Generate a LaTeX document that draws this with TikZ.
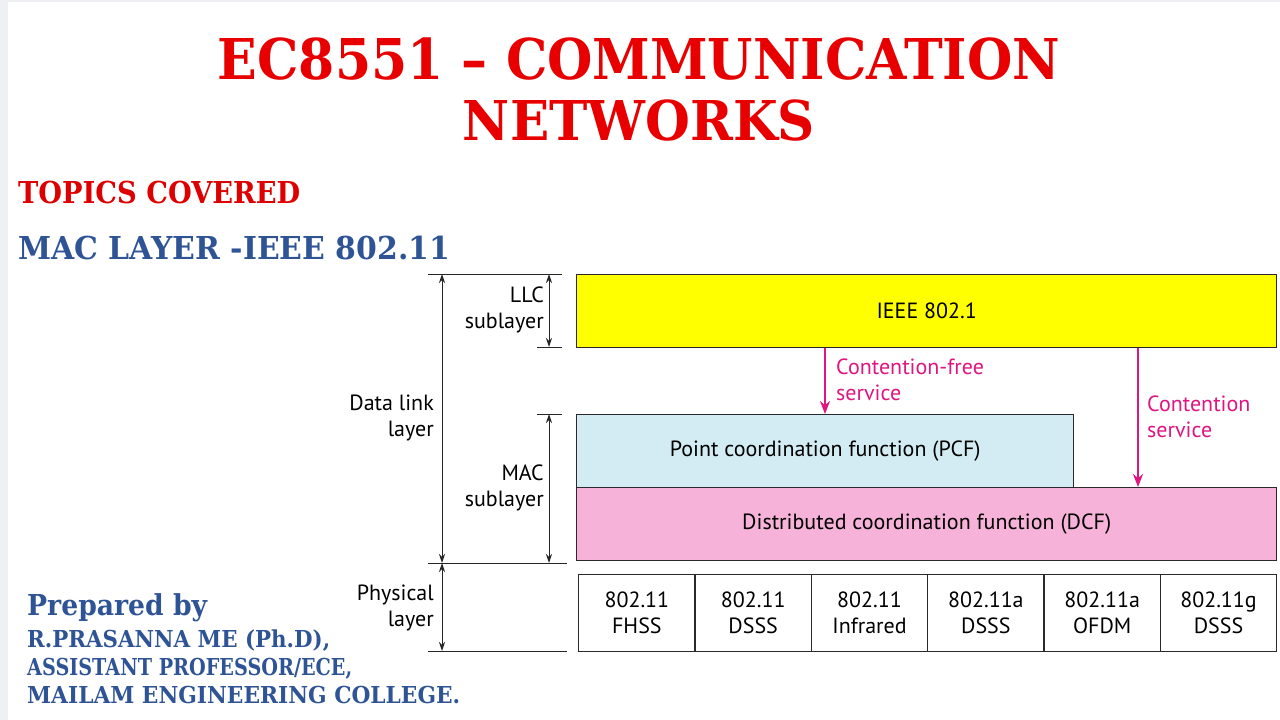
\documentclass[tikz,border=0pt]{standalone}
\usepackage{fontspec}
\setmainfont{PT Sans}
\newfontfamily\bkfam{DejaVu Serif}
\usetikzlibrary{arrows.meta}
\definecolor{titlered}{RGB}{232,0,0}
\definecolor{topicred}{RGB}{222,0,0}
\definecolor{authblue}{RGB}{47,84,150}
\definecolor{magarrow}{RGB}{224,22,128}
\definecolor{llcyellow}{RGB}{255,255,0}
\definecolor{pcfblue}{RGB}{211,236,243}
\definecolor{dcfpink}{RGB}{246,178,216}
\definecolor{edgegray}{RGB}{45,40,45}
\definecolor{stripgray}{RGB}{238,240,244}
\newcommand\bkb{\bkfam\bfseries}
\newcommand\capfit[3]{\resizebox{#1}{#2}{\bkb\smash{#3}\vphantom{A}}}
\newcommand\dfont{\fontsize{22}{26}\selectfont}
\begin{document}
\begin{tikzpicture}[x=1pt,y=-1pt,
  heading/.style={inner sep=0pt, anchor=base west},
  layerbox/.style={draw=edgegray, line width=1.4pt, inner sep=0pt, anchor=north west, font=\dfont},
  cellbox/.style={draw=edgegray, line width=1.4pt, inner sep=0pt, anchor=north west, minimum width=116.33pt, minimum height=77pt, align=center, font=\dfont},
  dimline/.style={draw=black!85, line width=1pt},
  dimarrow/.style={draw=black!85, line width=1pt, {Stealth[length=9pt,width=6pt]}-{Stealth[length=9pt,width=6pt]}},
  svcarrow/.style={draw=magarrow, line width=2.2pt, -{Stealth[length=13pt,width=10pt]}},
  dimlabel/.style={inner sep=0pt, anchor=east, align=right, font=\dfont},
  svclabel/.style={inner sep=0pt, anchor=west, align=left, font=\dfont, text=magarrow}]
\useasboundingbox (0,0) rectangle (1280,720);
\fill[white] (0,0) rectangle (1280,720);
\fill[stripgray] (0,0) rectangle (8,720);
\fill[stripgray] (0,0) rectangle (1280,2);

% titles
\node[inner sep=0pt, anchor=base, text=titlered] (title1) at (639,79) {\capfit{842pt}{41pt}{EC8551 \textendash\ COMMUNICATION}};
\node[inner sep=0pt, anchor=base, text=titlered] (title2) at (639,140) {\capfit{352pt}{40pt}{NETWORKS}};
\node[heading, text=topicred] (topics) at (18,203) {\capfit{282pt}{22pt}{TOPICS COVERED}};
\node[heading, text=authblue] (topic) at (18,259) {\capfit{432pt}{23pt}{MAC LAYER -IEEE 802.11}};
\node[heading, text=authblue] (prep) at (27,615) {\capfit{180pt}{21pt}{Prepared by}};
\node[heading, text=authblue] (auth1) at (27,647) {\capfit{303pt}{17pt}{R.PRASANNA ME (Ph.D),}};
\node[heading, text=authblue] (auth2) at (27,675) {\capfit{325pt}{17pt}{ASSISTANT PROFESSOR/ECE,}};
\node[heading, text=authblue] (auth3) at (27,703) {\capfit{433pt}{17pt}{MAILAM ENGINEERING COLLEGE.}};

% layer boxes
\node[layerbox, fill=llcyellow, minimum width=700pt, minimum height=73pt] (ieee) at (576,274) {IEEE 802.1};
\node[layerbox, fill=pcfblue, minimum width=497pt, minimum height=73pt] (pcf) at (576,414) {Point coordination function (PCF)};
\node[layerbox, fill=dcfpink, minimum width=700pt, minimum height=73pt] (dcf) at (576,487) {Distributed coordination function (DCF)};

% physical layer cells
\node[cellbox] (p1) at (578,574) {802.11\\FHSS};
\node[cellbox] (p2) at (694.33,574) {802.11\\DSSS};
\node[cellbox] (p3) at (810.67,574) {802.11\\Infrared};
\node[cellbox] (p4) at (927,574) {802.11a\\DSSS};
\node[cellbox] (p5) at (1043.33,574) {802.11a\\OFDM};
\node[cellbox] (p6) at (1159.67,574) {802.11g\\DSSS};

% service arrows
\coordinate (cf) at (825,0);
\coordinate (cs) at (1138,0);
\draw[svcarrow] (cf |- ieee.south) -- (cf |- pcf.north);
\draw[svcarrow] (cs |- ieee.south) -- (cs |- dcf.north);
\node[svclabel] (cflabel) at (836,380) {Contention-free\\service};
\node[svclabel] (cslabel) at (1147,417) {Contention\\service};

% dimension lines
\coordinate (dlTopL) at (428,274);  \coordinate (dlTopR) at (562,274);
\coordinate (llcBotL) at (537,347); \coordinate (llcBotR) at (562,347);
\coordinate (macTopL) at (537,414); \coordinate (macTopR) at (562,414);
\coordinate (physTopL) at (428,563); \coordinate (physTopR) at (567,563);
\coordinate (physBotL) at (428,651); \coordinate (physBotR) at (567,651);
\draw[dimline] (dlTopL) -- (dlTopR);
\draw[dimline] (llcBotL) -- (llcBotR);
\draw[dimline] (macTopL) -- (macTopR);
\draw[dimline] (physTopL) -- (physTopR);
\draw[dimline] (physBotL) -- (physBotR);
\coordinate (outerx) at (442,0);
\coordinate (innerx) at (549,0);
\draw[dimarrow] (outerx |- dlTopL) -- (outerx |- physTopL);
\draw[dimarrow] (outerx |- physTopL) -- (outerx |- physBotL);
\draw[dimarrow] (innerx |- dlTopL) -- (innerx |- llcBotL);
\draw[dimarrow] (innerx |- macTopL) -- (innerx |- physTopL);

\node[dimlabel] (llclabel) at (544,310) {LLC\\sublayer};
\node[dimlabel] (dllabel) at (434,418) {Data link\\layer};
\node[dimlabel] (maclabel) at (544,488) {MAC\\sublayer};
\node[dimlabel] (phylabel) at (434,608) {Physical\\layer};
\end{tikzpicture}
\end{document}
